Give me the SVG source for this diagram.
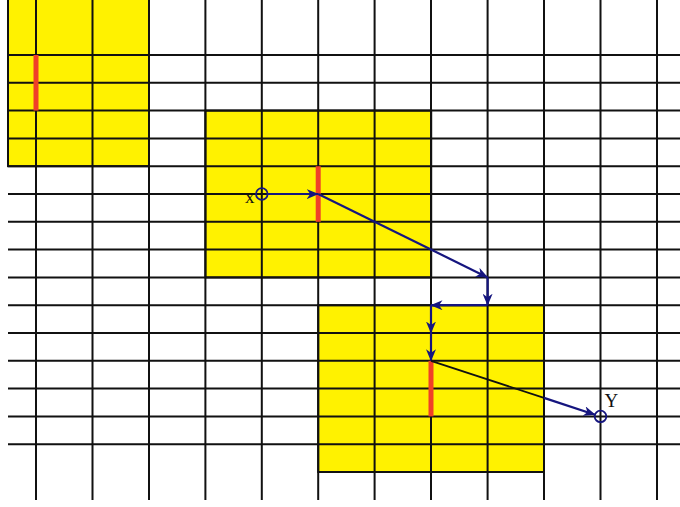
<svg xmlns="http://www.w3.org/2000/svg" width="680" height="507" viewBox="0 0 680 507">
<defs>
<style>
.blk{fill:#fff200;stroke:#111;stroke-width:2}
.g{stroke:#111;stroke-width:2;fill:none}
.bar{stroke:#f04028;stroke-width:5;fill:none}
.c{stroke:#15157f;stroke-width:2.2;fill:none}
.ck{stroke:#111;stroke-width:1.8;fill:none}
.pt{stroke:#15157f;stroke-width:1.8;fill:none}
.lbl{font-family:"Liberation Serif","Times New Roman",serif;font-size:19px;fill:#111}
</style>
<marker id="ah" viewBox="0 0 12 10" refX="11.5" refY="5" markerWidth="12" markerHeight="10" markerUnits="userSpaceOnUse" orient="auto">
<path d="M0,0 L12,5 L0,10 L3.5,5 z" fill="#15157f"/>
</marker>
</defs>
<rect width="680" height="507" fill="#fff"/>
<g id="blocks">
<rect id="block1" class="blk" x="8" y="-2" width="141" height="168.2"/>
<rect id="block2" class="blk" x="205.4" y="110.6" width="225.8" height="166.8"/>
<rect id="block3" class="blk" x="318.2" y="305.2" width="225.8" height="166.8"/>
</g>
<g id="grid" class="g">
<path d="M36,0V500M92.5,0V500M149,0V500M205.4,0V500M261.8,0V500M318.2,0V500M374.6,0V500M431,0V500M487.6,0V500M544,0V500M600.5,0V500M657,0V500"/>
<path d="M8,55H680M8,82.8H680M8,110.6H680M8,138.4H680M8,166.2H680M8,194H680M8,221.8H680M8,249.6H680M8,277.4H680M8,305.2H680M8,333H680M8,360.8H680M8,388.6H680M8,416.4H680M8,444.2H680"/>
</g>
<g id="bars" class="bar">
<path d="M36,55V110.6"/>
<path d="M318.2,166.2V221.8"/>
<path d="M431,360.8V416.4"/>
</g>
<g id="pointX">
<circle class="pt" cx="261.8" cy="194" r="5.8"/>
<text class="lbl" x="245" y="203">x</text>
</g>
<g id="pointY">
<circle class="pt" cx="600.5" cy="416.4" r="5.8"/>
<text class="lbl" x="604.5" y="406.5">Y</text>
</g>
<g id="connectors">
<path class="c" d="M267.6,194H318.2" marker-end="url(#ah)"/>
<path class="c" d="M318.2,194L487.6,277.4" marker-end="url(#ah)"/>
<path class="c" d="M487.6,277.4V305.2" marker-end="url(#ah)"/>
<path class="c" d="M487.6,305.2H431" marker-end="url(#ah)"/>
<path class="c" d="M431,305.2V333" marker-end="url(#ah)"/>
<path class="c" d="M431,333V360.8" marker-end="url(#ah)"/>
<path class="ck" d="M431,360.8L544,397.9"/>
<path class="c" d="M544,397.9L595,414.7" marker-end="url(#ah)"/>
</g>
</svg>
